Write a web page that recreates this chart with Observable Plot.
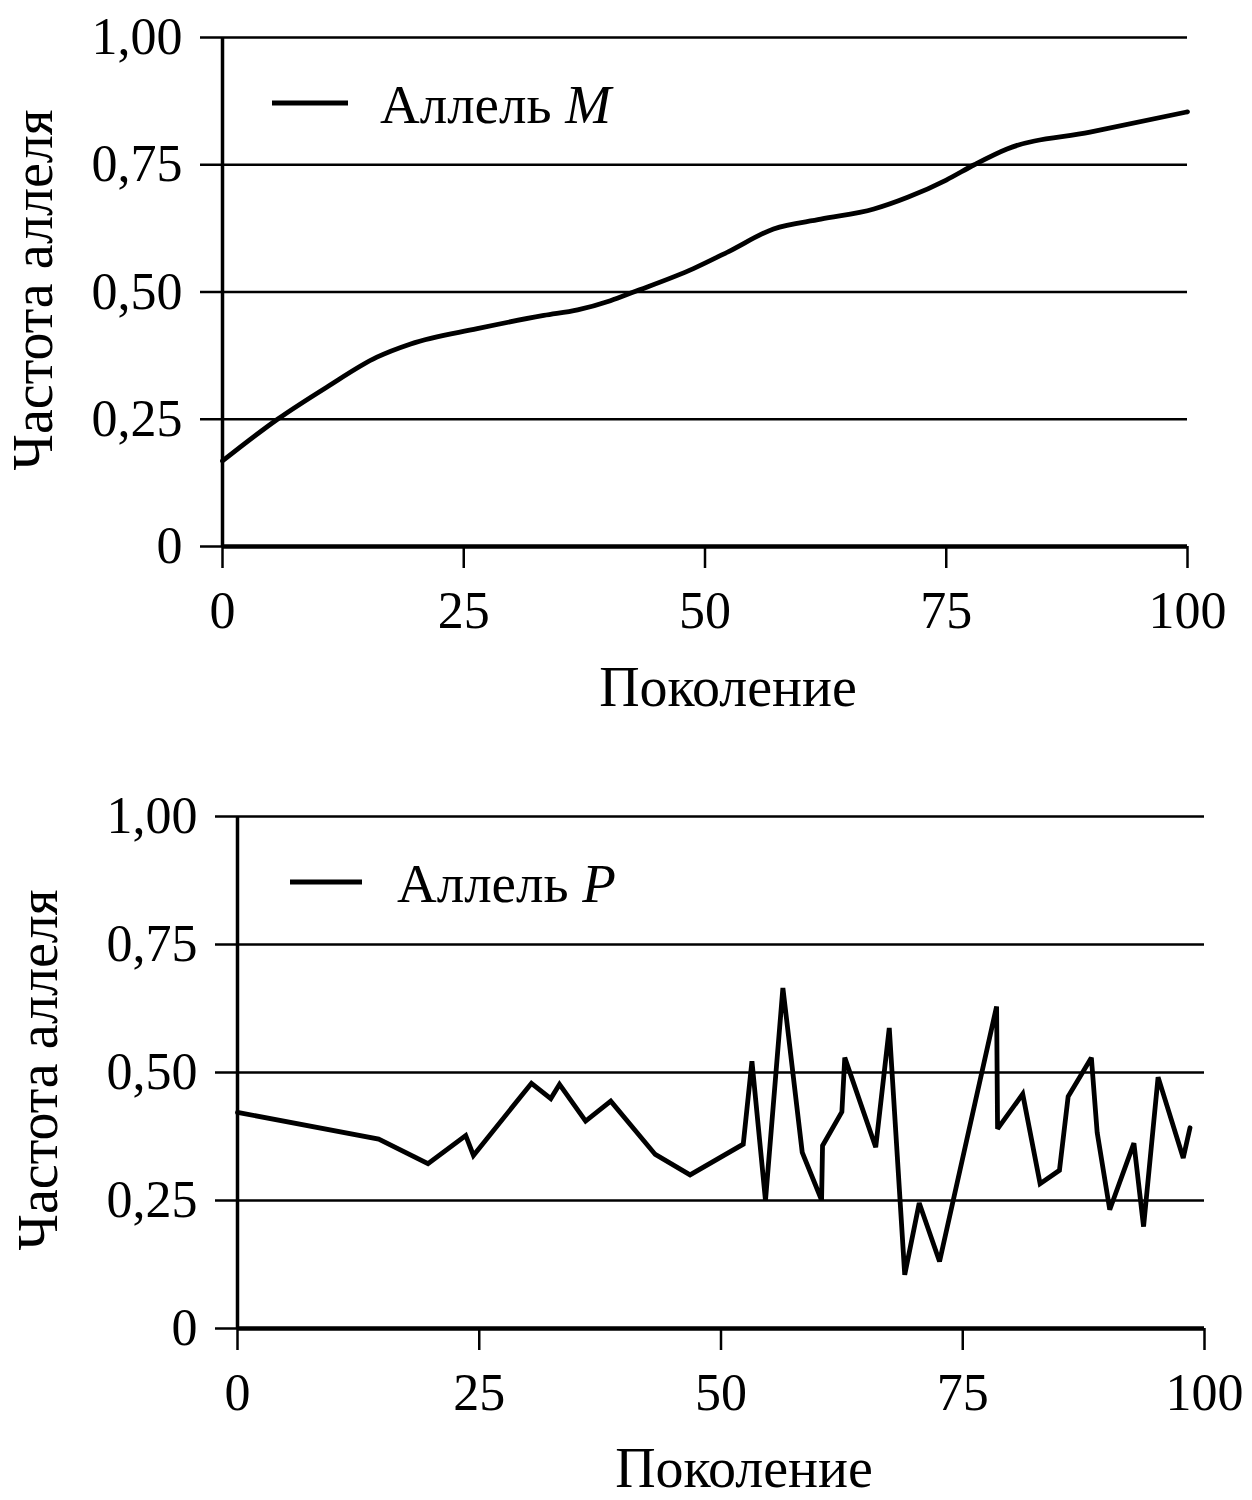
<!DOCTYPE html>
<html>
<head>
<meta charset="utf-8">
<script src="https://cdn.jsdelivr.net/npm/d3@7"></script>
<script src="https://cdn.jsdelivr.net/npm/@observablehq/plot@0.6"></script>
<style>
  body { margin: 0; background: white; }
  #wrap { position: relative; width: 1252px; height: 1500px; background: white; }
  #top, #bot { position: absolute; left: 0; }
  #top { top: 0; }
  #bot { top: 740px; }
  svg text { font-family: "Liberation Serif", "Times New Roman", serif; }
</style>
</head>
<body>
<div id="wrap"><div id="top"></div><div id="bot"></div></div>
<script>
// ---- data ----
const xTicks = [0, 25, 50, 75, 100];
const yTicks = [0, 0.25, 0.5, 0.75, 1];
const xLabel = "Поколение";
const yLabel = "Частота аллеля";
const legendM = ["Аллель ", "M"];
const legendP = ["Аллель ", "P"];

const genM = [0, 5.7, 10.8, 16, 19.5, 26.4, 33.3, 36.8, 40.2, 42.6, 48.8, 52.5, 57.1, 62, 67.5, 71, 75, 77.9, 81.3, 89.9, 100];
const freqM = [0.168, 0.25, 0.313, 0.372, 0.398, 0.428, 0.454, 0.465, 0.483, 0.5, 0.546, 0.58, 0.624, 0.643, 0.663, 0.686, 0.72, 0.75, 0.781, 0.814, 0.854];

const genP = [0, 14.6, 19.7, 23.6, 24.4, 30.4, 32.4, 33.3, 36.0, 38.6, 43.2, 46.8, 52.3, 53.2, 54.6, 56.4, 58.4, 60.4, 60.5, 62.5, 62.8, 66.0, 67.4, 69.0, 70.5, 72.6, 78.5, 78.6, 81.2, 83.0, 85.0, 85.9, 88.3, 88.9, 90.2, 92.7, 93.7, 95.2, 97.8, 98.5];
const freqP = [0.422, 0.370, 0.322, 0.377, 0.338, 0.479, 0.449, 0.477, 0.405, 0.444, 0.340, 0.300, 0.360, 0.522, 0.250, 0.665, 0.344, 0.251, 0.357, 0.423, 0.529, 0.354, 0.587, 0.105, 0.245, 0.131, 0.629, 0.390, 0.458, 0.283, 0.309, 0.453, 0.529, 0.383, 0.232, 0.362, 0.199, 0.491, 0.333, 0.392];

const dataM = genM.map((g, i) => ({gen: g, freq: freqM[i]}));
const dataP = genP.map((g, i) => ({gen: g, freq: freqP[i]}));

const fmtY = d => d === 0 ? "0" : d.toFixed(2).replace(".", ",");

function makeChart(data, curve, opts) {
  const chart = Plot.plot({
    width: 1252,
    height: opts.height,
    marginLeft: opts.ml,
    marginRight: opts.mr,
    marginTop: opts.mt,
    marginBottom: opts.mb,
    style: {fontFamily: "Liberation Serif", fontSize: "52px", color: "black", background: "white"},
    x: {domain: [0, 100]},
    y: {domain: [0, 1]},
    marks: [
      Plot.ruleY(yTicks, {y: d => d, stroke: "black", strokeWidth: 2.5, strokeOpacity: 1}),
      Plot.axisY({ticks: yTicks, tickFormat: fmtY, tickSize: 22, tickPadding: 18, label: null, stroke: "black", strokeWidth: 2.5, fill: "black"}),
      Plot.axisX({ticks: xTicks, tickFormat: d => String(d), tickSize: 22, tickPadding: 23, label: null, stroke: "black", strokeWidth: 2.5, fill: "black"}),
      Plot.ruleX([0], {stroke: "black", strokeWidth: 3.5}),
      Plot.ruleY([0], {stroke: "black", strokeWidth: 4.5}),
      Plot.line(data, {x: "gen", y: "freq", curve, stroke: "black", strokeWidth: 4.8, strokeLinejoin: "miter", strokeMiterlimit: 3})
    ]
  });
  const svg = d3.select(chart);
  // axis labels
  svg.append("text")
    .attr("x", opts.xlx).attr("y", opts.xly)
    .attr("text-anchor", "middle")
    .attr("font-size", 56).attr("fill", "black")
    .text(xLabel);
  svg.append("text")
    .attr("transform", `translate(${opts.ylx},${opts.yly}) rotate(-90)`)
    .attr("text-anchor", "middle")
    .attr("font-size", 56).attr("fill", "black")
    .text(yLabel);
  // legend
  svg.append("line")
    .attr("x1", opts.lgx1).attr("x2", opts.lgx2)
    .attr("y1", opts.lgy).attr("y2", opts.lgy)
    .attr("stroke", "black").attr("stroke-width", 4.8);
  const t = svg.append("text")
    .attr("x", opts.lgtx).attr("y", opts.lgty)
    .attr("text-anchor", "start")
    .attr("font-size", 55).attr("fill", "black");
  t.append("tspan").text(opts.legend[0]);
  t.append("tspan").attr("font-style", "italic").text(opts.legend[1]);
  return chart;
}

document.getElementById("top").appendChild(makeChart(dataM, "monotone-x", {
  height: 740, ml: 222, mr: 65, mt: 37, mb: 194,
  xlx: 728, xly: 706, ylx: 52, yly: 290,
  lgx1: 272, lgx2: 348, lgy: 103, lgtx: 380, lgty: 123,
  legend: legendM
}));

document.getElementById("bot").appendChild(makeChart(dataP, "linear", {
  height: 760, ml: 237, mr: 48, mt: 76, mb: 172,
  xlx: 744, xly: 747, ylx: 57, yly: 330,
  lgx1: 290, lgx2: 362, lgy: 142, lgtx: 397, lgty: 162,
  legend: legendP
}));
</script>
</body>
</html>
